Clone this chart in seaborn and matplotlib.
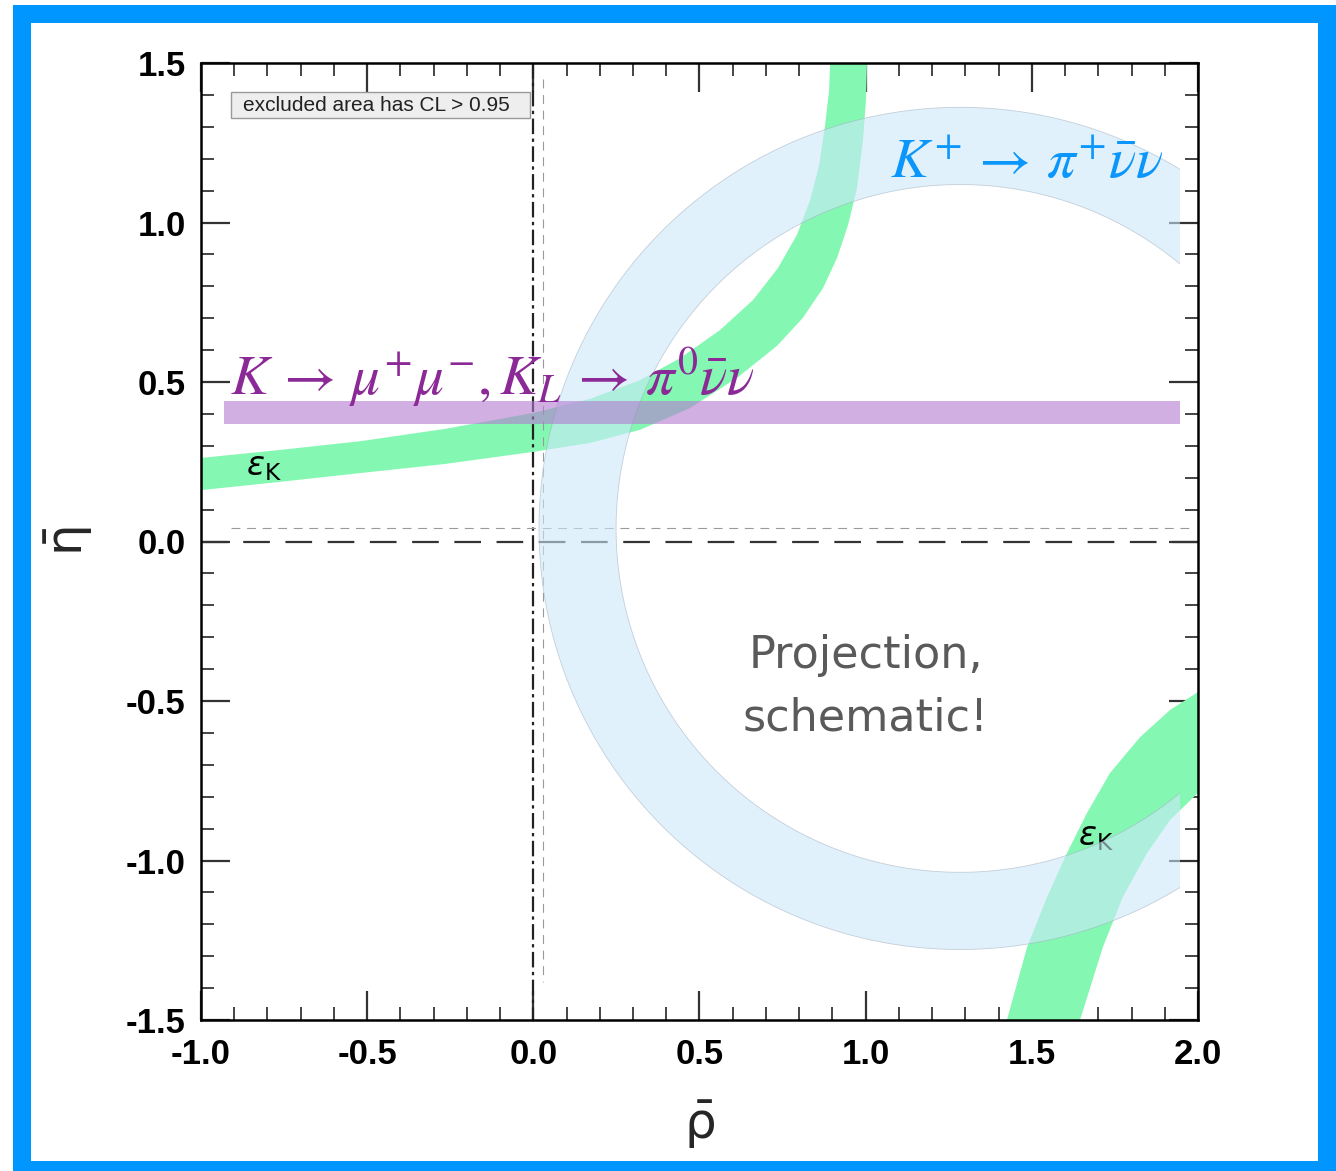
import numpy as np
import matplotlib
matplotlib.use("Agg")
import matplotlib.pyplot as plt
from matplotlib.path import Path
from matplotlib.patches import PathPatch, Rectangle
from matplotlib.ticker import MultipleLocator
import seaborn as sns

# ---------------------------------------------------------------- data
# epsilon_K band, upper branch (rho, eta) along its two edges
epsk_up_a_rho = [-1.000, -0.762, -0.516, -0.266, 0.000, 0.171, 0.321, 0.442, 0.562,
                 0.661, 0.736, 0.793, 0.833, 0.860, 0.878, 0.890, 0.893]
epsk_up_a_eta = [0.262, 0.287, 0.315, 0.353, 0.403, 0.447, 0.506, 0.575, 0.663,
                 0.757, 0.857, 0.961, 1.071, 1.180, 1.306, 1.415, 1.500]
epsk_up_b_rho = [-1.000, -0.762, -0.516, -0.266, 0.000, 0.171, 0.321, 0.471, 0.613,
                 0.733, 0.811, 0.872, 0.914, 0.947, 0.974, 0.992, 1.001, 1.004]
epsk_up_b_eta = [0.161, 0.187, 0.215, 0.243, 0.281, 0.309, 0.350, 0.418, 0.513,
                 0.613, 0.701, 0.795, 0.889, 0.992, 1.108, 1.258, 1.384, 1.500]

# epsilon_K band, lower branch
epsk_lo_a_rho = [1.425, 1.486, 1.546, 1.606, 1.666, 1.735, 1.826, 1.916, 2.000]
epsk_lo_a_eta = [-1.500, -1.271, -1.114, -0.976, -0.851, -0.726, -0.613, -0.528, -0.472]
epsk_lo_b_rho = [1.645, 1.714, 1.774, 1.847, 1.916, 2.000]
epsk_lo_b_eta = [-1.500, -1.271, -1.114, -0.976, -0.873, -0.788]

# K -> mu mu, K_L -> pi0 nu nu : horizontal band
kl_rho = [-0.931, 1.946]
kl_eta_lo = [0.368, 0.368]
kl_eta_hi = [0.440, 0.440]

# K+ -> pi+ nu nu : ring (centre, outer / inner half-axes), cut at rho_max
kp_center = (1.284, 0.041)
kp_outer = (1.267, 1.320)
kp_inner = (1.035, 1.078)
kp_rho_max = 1.946

# reference lines
zero_rho = [-1.0, 2.0]
zero_eta = [0.0, 0.0]
vline_rho = [0.0, 0.0]
vline_eta = [1.5, -1.5]
thin_h_rho = [-0.91, 1.98]
thin_h_eta = [0.042, 0.042]
thin_v_rho = [0.029, 0.029]
thin_v_eta = [1.45, -1.38]

xticks = [-1.0, -0.5, 0.0, 0.5, 1.0, 1.5, 2.0]
yticks = [-1.5, -1.0, -0.5, 0.0, 0.5, 1.0, 1.5]

# ---------------------------------------------------------------- style
sns.set_theme(style="white")
plt.rcParams["font.family"] = ["Liberation Sans", "DejaVu Sans"]
plt.rcParams["mathtext.fontset"] = "stix"

W, H = 1336, 1171
fig = plt.figure(figsize=(W / 100, H / 100), dpi=100)
fig.patch.set_facecolor("white")
ax = fig.add_axes([201 / W, 1 - 1020 / H, 997 / W, 957 / H])
ax.set_facecolor("white")

GREEN = "#84f8b2"

# epsilon_K bands
ax.fill(epsk_up_a_rho + epsk_up_b_rho[::-1], epsk_up_a_eta + epsk_up_b_eta[::-1],
        color=GREEN, lw=0, zorder=1)
ax.fill(epsk_lo_a_rho + epsk_lo_b_rho[::-1], epsk_lo_a_eta + epsk_lo_b_eta[::-1],
        color=GREEN, lw=0, zorder=1)


def ref_line(xs, ys, color, lw, dashes):
    n0 = len(ax.lines)
    sns.lineplot(x=xs, y=ys, ax=ax, color=color, lw=lw, estimator=None,
                 sort=False, errorbar=None, zorder=2)
    line = ax.lines[n0]
    line.set_dashes(dashes)
    return line


ref_line(zero_rho, zero_eta, "#333333", 1.6, (12, 7))
ref_line(vline_rho, vline_eta, "#222222", 1.6, (7, 2, 1.5, 2))
ref_line(thin_h_rho, thin_h_eta, "#9a9a9a", 0.8, (8, 6))
ref_line(thin_v_rho, thin_v_eta, "#9a9a9a", 0.8, (8, 6))

# epsilon_K labels (drawn below the ring)
ax.text(-0.865, 0.208, r"$\varepsilon_\mathrm{K}$", fontsize=24, color="black",
        math_fontfamily="dejavusans", zorder=1.5)
ax.text(1.639, -0.951, r"$\varepsilon_\mathrm{K}$", fontsize=24, color="black",
        math_fontfamily="dejavusans", zorder=1.5)

# K+ ring
t = np.linspace(0, 2 * np.pi, 721)
cx, cy = kp_center
outer = np.column_stack([cx + kp_outer[0] * np.cos(t), cy + kp_outer[1] * np.sin(t)])
inner = np.column_stack([cx + kp_inner[0] * np.cos(t[::-1]), cy + kp_inner[1] * np.sin(t[::-1])])
verts = np.vstack([outer, inner])
codes = np.full(len(verts), Path.LINETO)
codes[0] = Path.MOVETO
codes[len(outer)] = Path.MOVETO
ring = PathPatch(Path(verts, codes), facecolor=(0.80, 0.91, 0.985, 0.58),
                 edgecolor=(0.62, 0.68, 0.74, 0.55), lw=0.6, zorder=3)
ax.add_patch(ring)
clip = Rectangle((-1.0, -1.5), kp_rho_max + 1.0, 3.0, transform=ax.transData)
ring.set_clip_path(clip)

# K -> mu mu band
ax.fill_between(kl_rho, kl_eta_lo, kl_eta_hi, color=(0.70, 0.48, 0.82), alpha=0.6,
                lw=0, zorder=4)

# process labels
ax.text(1.073, 1.139, r"$K^{+}\,\rightarrow\,\pi^{+}\bar{\nu}\nu$", fontsize=41,
        color="#0a96fa", zorder=6)
ax.text(-0.913, 0.459, r"$K\,\rightarrow\,\mu^{+}\mu^{-},K_{L}\,\rightarrow\,\pi^{0}\bar{\nu}\nu$",
        fontsize=41, color="#8b2a96", zorder=6)

ax.text(1.001, -0.356, "Projection,", fontsize=32, color="#5a5a5a",
        ha="center", va="center", family="DejaVu Sans", zorder=6)
ax.text(1.001, -0.553, "schematic!", fontsize=32, color="#5a5a5a",
        ha="center", va="center", family="DejaVu Sans", zorder=6)

# note box
ax.add_patch(Rectangle((-0.910, 1.327), 0.900, 0.082, facecolor="#eeeeee",
                       edgecolor="#999999", lw=1, zorder=5))
ax.text(-0.874, 1.368, "excluded area has CL > 0.95", fontsize=15, color="#222222",
        va="center", ha="left", zorder=6)

# axes
ax.set_xlim(-1.0, 2.0)
ax.set_ylim(-1.5, 1.5)
ax.set_xticks(xticks)
ax.set_yticks(yticks)
ax.set_xticklabels([f"{v:.1f}" for v in xticks])
ax.set_yticklabels([f"{v:.1f}" for v in yticks])
ax.xaxis.set_minor_locator(MultipleLocator(0.1))
ax.yaxis.set_minor_locator(MultipleLocator(0.1))
ax.tick_params(which="major", direction="in", length=21, width=1.6, color="#333333",
               top=True, right=True, bottom=True, left=True,
               labelsize=25, labelcolor="black")
ax.tick_params(which="minor", direction="in", length=9.5, width=1.4, color="#444444",
               top=True, right=True, bottom=True, left=True)
ax.tick_params(axis="y", which="major", pad=11)
ax.tick_params(axis="x", which="major", pad=13)
for lab in ax.get_xticklabels() + ax.get_yticklabels():
    lab.set_fontweight("bold")
for s in ax.spines.values():
    s.set_color("black")
    s.set_linewidth(1.8)
    s.set_zorder(7)

ax.set_xlabel(r"$\bar{\mathrm{\rho}}$", fontsize=36, math_fontfamily="dejavusans", labelpad=20)
ax.set_ylabel(r"$\bar{\mathrm{\eta}}$", fontsize=36, math_fontfamily="dejavusans", labelpad=22)

# blue frame
BLUE = "#0096ff"
for x0, y0, w, h in [(13, 0, 18, 1166), (13, 1148, 1323, 18),
                     (1318, 0, 18, 1166), (13, 0, 1323, 10)]:
    fig.add_artist(Rectangle((x0 / W, y0 / H), w / W, h / H, transform=fig.transFigure,
                             facecolor=BLUE, edgecolor="none", zorder=10))

fig.savefig("out.png", dpi=100, facecolor="white")
